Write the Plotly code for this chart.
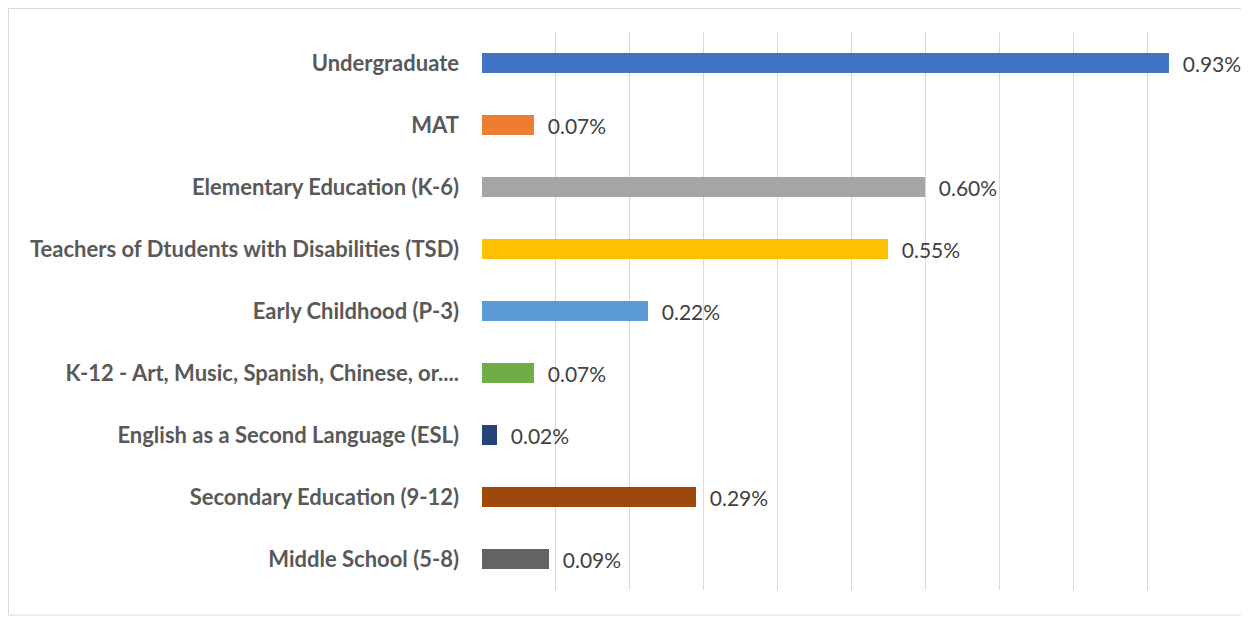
import plotly.graph_objects as go

categories = [
    "Undergraduate",
    "MAT",
    "Elementary Education (K-6)",
    "Teachers of Dtudents with Disabilities (TSD)",
    "Early Childhood (P-3)",
    "K-12 - Art, Music, Spanish, Chinese, or....",
    "English as a Second Language (ESL)",
    "Secondary Education (9-12)",
    "Middle School (5-8)",
]
values = [0.93, 0.07, 0.60, 0.55, 0.224, 0.07, 0.02, 0.29, 0.09]
colors = ["#4472C4", "#ED7D31", "#A5A5A5", "#FFC000", "#5B9BD5",
          "#70AD47", "#264478", "#9E480E", "#636363"]

# page body has an 8px margin; compensate
OFF = 8
W, H = 1249 - OFF, 618 - OFF
L, T = 482 - OFF, 32 - OFF
R = W - (1221 - OFF)
B = H - (590 - OFF)
pw, ph = W - L - R, H - T - B

fig = go.Figure(go.Bar(
    y=categories, x=values, orientation="h",
    marker=dict(color=colors, line=dict(width=0)),
    width=0.33,
    texttemplate="\u00a0\u00a0%{x:.2f}%",
    textposition="outside",
    constraintext="none",
    textfont=dict(family="Lato", size=21, color="#404040"),
    cliponaxis=False,
    hoverinfo="skip",
))

fig.update_layout(
    width=W, height=H,
    margin=dict(l=L, r=R, t=T, b=B),
    paper_bgcolor="white", plot_bgcolor="white",
    showlegend=False,
    bargap=0,
    xaxis=dict(range=[0, 1.0], dtick=0.1, showticklabels=False,
               showgrid=True, gridcolor="#D9D9D9", gridwidth=1,
               zeroline=False, showline=False, ticks=""),
    yaxis=dict(autorange="reversed", showgrid=False, zeroline=False,
               showline=False, ticks="", ticklabelstandoff=22,
               tickfont=dict(family="Lato", size=22, color="#595959", weight="bold")),
    shapes=[dict(type="rect", xref="paper", yref="paper",
                 x0=(0.5 - L) / pw, x1=(1239 - L) / pw,
                 y0=(H - B - 607) / ph, y1=(H - B - 0.5) / ph,
                 line=dict(color="#D9D9D9", width=1), fillcolor="rgba(0,0,0,0)",
                 layer="below")],
)

fig.write_html("out.html")
